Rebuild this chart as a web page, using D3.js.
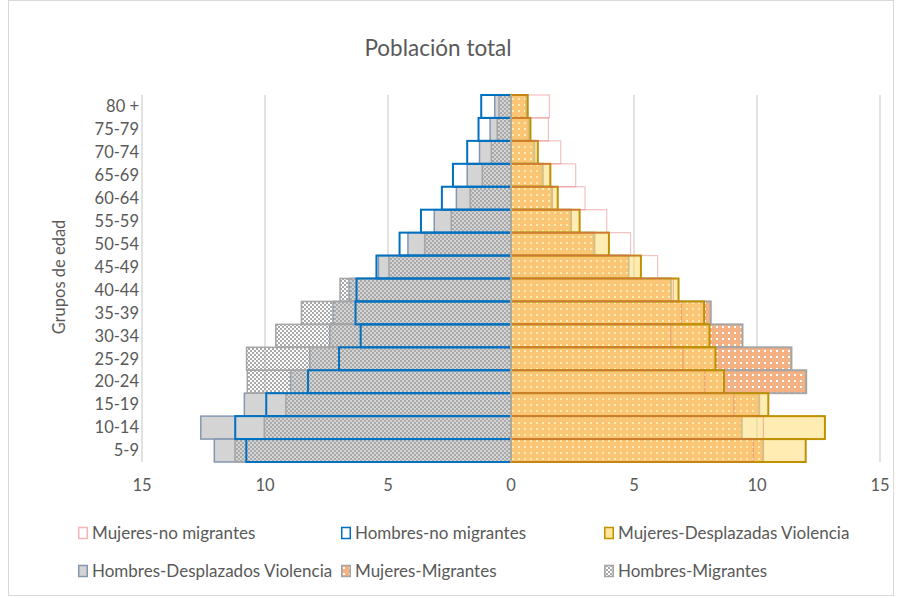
<!DOCTYPE html>
<html>
<head>
<meta charset="utf-8">
<script src="https://cdn.jsdelivr.net/npm/d3@7"></script>
<style>
  body { margin: 0; background: #ffffff; }
  text { font-family: Lato, "Open Sans", sans-serif; fill: #595959; }
</style>
</head>
<body>
<script>
// age groups, top of the pyramid first
const ageGroups = ["80 +", "75-79", "70-74", "65-69", "60-64", "55-59", "50-54", "45-49",
                   "40-44", "35-39", "30-34", "25-29", "20-24", "15-19", "10-14", "5-9"];

// men (drawn to the left)
const hombresNoMigrantes = [1.21, 1.32, 1.78, 2.36, 2.81, 3.66, 4.53, 5.47, 6.28, 6.32, 6.11, 6.99, 8.25, 9.95, 11.21, 10.76];
const hombresDesplazados = [0.66, 0.85, 1.28, 1.78, 2.22, 3.12, 4.19, 5.39, 6.58, 7.23, 7.37, 8.18, 8.96, 10.84, 12.61, 12.06];
const hombresMigrantes   = [0.49, 0.56, 0.80, 1.17, 1.66, 2.43, 3.51, 4.96, 6.95, 8.52, 9.56, 10.75, 10.72, 9.15, 10.03, 11.22];

// women (drawn to the right)
const mujeresNoMigrantes = [1.56, 1.52, 2.02, 2.63, 3.01, 3.89, 4.86, 5.96, 6.60, 6.93, 6.49, 6.99, 7.88, 9.06, 10.26, 9.85];
const mujeresDesplazadas = [0.68, 0.79, 1.09, 1.60, 1.90, 2.79, 3.98, 5.28, 6.81, 7.85, 8.07, 8.31, 8.66, 10.46, 12.76, 11.98];
const mujeresMigrantes   = [0.62, 0.72, 0.95, 1.29, 1.67, 2.44, 3.39, 4.78, 6.50, 8.12, 9.41, 11.40, 12.00, 10.09, 9.38, 10.25];

const xTicks = [-15, -10, -5, 0, 5, 10, 15];

const legendLabels = ["Mujeres-no migrantes", "Hombres-no migrantes", "Mujeres-Desplazadas Violencia",
                      "Hombres-Desplazados Violencia", "Mujeres-Migrantes", "Hombres-Migrantes"];

window.onload = function() {

  const w = 906;
  const h = 598;

  const svg = d3.select("body")
                .append("svg")
                .attr("width", w)
                .attr("height", h);

  // patterns for the migrant series
  const defs = svg.append("defs");
  const checker = defs.append("pattern")
                      .attr("id", "checker")
                      .attr("patternUnits", "userSpaceOnUse")
                      .attr("width", 4).attr("height", 4);
  checker.append("rect").attr("x", 0).attr("y", 0).attr("width", 2).attr("height", 2).attr("fill", "#a9a9a9");
  checker.append("rect").attr("x", 2).attr("y", 2).attr("width", 2).attr("height", 2).attr("fill", "#a9a9a9");

  const dots = defs.append("pattern")
                   .attr("id", "dots")
                   .attr("patternUnits", "userSpaceOnUse")
                   .attr("width", 6).attr("height", 6);
  dots.append("rect").attr("width", 6).attr("height", 6).attr("fill", "#f4b183");
  dots.append("rect").attr("x", 2).attr("y", 2).attr("width", 2).attr("height", 2).attr("fill", "#ffffff");

  // chart frame
  svg.append("rect")
     .attr("x", 8.5).attr("y", 0.5)
     .attr("width", 885).attr("height", 595)
     .attr("fill", "none")
     .attr("stroke", "#d9d9d9");

  const x = d3.scaleLinear().domain([-15, 15]).range([142, 880]);
  const y = d3.scaleBand().domain(ageGroups).range([95, 462]).padding(0);

  // gridlines
  svg.append("g")
     .selectAll("line")
     .data(xTicks.filter(function(d) { return d != 0; }))
     .enter()
     .append("line")
     .attr("x1", function(d) { return x(d); })
     .attr("x2", function(d) { return x(d); })
     .attr("y1", y.range()[0])
     .attr("y2", y.range()[1])
     .attr("stroke", "#d9d9d9")
     .attr("stroke-width", 1.5);

  // draws one series; sign -1 = men (left), 1 = women (right)
  function drawBars(values, sign, fill, stroke, strokeWidth, opacity, strokeOpacity) {
    svg.append("g")
       .selectAll("rect")
       .data(values)
       .enter()
       .append("rect")
       .attr("x", function(d) { return sign < 0 ? x(-d) : x(0); })
       .attr("y", function(d, i) { return y(ageGroups[i]); })
       .attr("width", function(d) { return x(d) - x(0); })
       .attr("height", y.bandwidth())
       .attr("fill", fill)
       .attr("fill-opacity", opacity)
       .attr("stroke", stroke)
       .attr("stroke-width", strokeWidth)
       .attr("stroke-opacity", strokeOpacity);
  }

  // men
  drawBars(hombresDesplazados, -1, "#d4d4d4", "#8497b0", 1.5, 1, 1);
  drawBars(hombresMigrantes, -1, "url(#checker)", "#a5a5a5", 1.5, 1, 1);
  drawBars(hombresNoMigrantes, -1, "none", "#0070c0", 2, 1, 1);

  // women
  drawBars(mujeresMigrantes, 1, "url(#dots)", "#a5a5a5", 2, 1, 1);
  drawBars(mujeresDesplazadas, 1, "#ffd966", "#bf9000", 2, 0.5, 1);
  drawBars(mujeresNoMigrantes, 1, "none", "#e06666", 1.2, 1, 0.4);

  // vertical axis line at zero
  svg.append("line")
     .attr("x1", x(0)).attr("x2", x(0))
     .attr("y1", y.range()[0]).attr("y2", y.range()[1])
     .attr("stroke", "#a3b6c6")
     .attr("stroke-width", 1.5);

  // x tick labels (absolute values)
  svg.append("g")
     .selectAll("text")
     .data(xTicks)
     .enter()
     .append("text")
     .attr("x", function(d) { return x(d); })
     .attr("y", 491)
     .attr("text-anchor", "middle")
     .style("font-size", "16.5px")
     .text(function(d) { return Math.abs(d); });

  // age group labels
  svg.append("g")
     .selectAll("text")
     .data(ageGroups)
     .enter()
     .append("text")
     .attr("x", 139)
     .attr("y", function(d) { return y(d) + y.bandwidth() / 2; })
     .attr("dy", "0.35em")
     .attr("text-anchor", "end")
     .style("font-size", "16.5px")
     .text(function(d) { return d; });

  // axis title
  svg.append("text")
     .attr("transform", "translate(65," + 277 + ") rotate(-90)")
     .attr("text-anchor", "middle")
     .style("font-size", "16.5px")
     .text("Grupos de edad");

  // title
  svg.append("text")
     .attr("x", 438)
     .attr("y", 56)
     .attr("text-anchor", "middle")
     .style("font-size", "22.5px")
     .text("Población total");

  // legend
  const legendFill = ["#ffffff", "#ffffff", "#ffe699", "#d4d4d4", "url(#dots)", "url(#checker)"];
  const legendStroke = ["#f4b6b6", "#0070c0", "#bf9000", "#8497b0", "#a5a5a5", "#a5a5a5"];
  const colX = [78, 341, 604];
  const rowY = [533, 571];

  const legend = svg.append("g")
                    .selectAll("g")
                    .data(legendLabels)
                    .enter()
                    .append("g")
                    .attr("transform", function(d, i) {
                      return "translate(" + colX[i % 3] + "," + rowY[Math.floor(i / 3)] + ")";
                    });

  legend.append("rect")
        .attr("x", 0.75).attr("y", -5.5)
        .attr("width", 8.5).attr("height", 11)
        .attr("fill", function(d, i) { return legendFill[i]; })
        .attr("stroke", function(d, i) { return legendStroke[i]; })
        .attr("stroke-width", 1.5);

  legend.append("text")
        .attr("x", 14)
        .attr("dy", "0.35em")
        .style("font-size", "17px")
        .text(function(d) { return d; });
};
</script>
</body>
</html>
